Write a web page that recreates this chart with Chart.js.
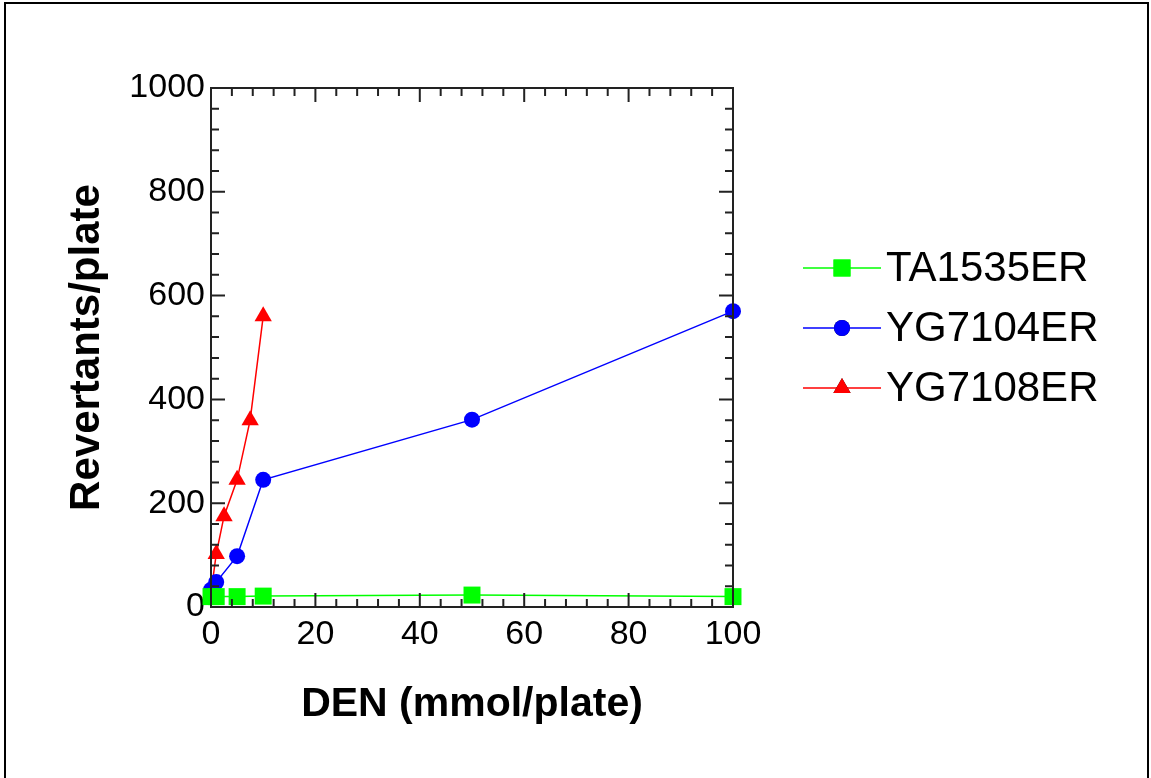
<!DOCTYPE html>
<html>
<head>
<meta charset="utf-8">
<script src="https://cdn.jsdelivr.net/npm/chart.js@4"></script>
<style>
  html, body { margin: 0; padding: 0; background: #fff; }
  #wrap { position: relative; width: 1151px; height: 778px; }
</style>
</head>
<body>
<div id="wrap"><canvas id="chart"></canvas></div>
<script>
// data
const seriesNames = ['TA1535ER', 'YG7104ER', 'YG7108ER'];
const taDose = [0, 1, 5, 10, 50, 100];
const taRev = [20, 20, 20, 21, 23, 20];
const yg7104Dose = [0, 1, 5, 10, 50, 100];
const yg7104Rev = [33, 48, 98, 245, 361, 570];
const yg7108Dose = [0, 1, 2.5, 5, 7.5, 10];
const yg7108Rev = [27, 102, 175, 245, 360, 560];

const xTitle = 'DEN (mmol/plate)';
const yTitle = 'Revertants/plate';

const FONT = "Arial, 'Liberation Sans', sans-serif";

function toPoints(xs, ys) {
    return xs.map((x, i) => ({ x: x, y: ys[i] }));
}

// inward ticks on all four sides plus the box
const frameTicks = {
    id: 'frameTicks',
    afterDatasetsDraw(chart) {
        const { ctx, chartArea: a, scales } = chart;
        const xs = scales.x, ys = scales.y;
        ctx.save();
        ctx.strokeStyle = '#222';
        ctx.lineWidth = 2;
        ctx.beginPath();
        for (let v = 0; v <= 100; v += 4) {
            const px = xs.getPixelForValue(v);
            const len = v % 20 === 0 ? 14 : 8;
            ctx.moveTo(px, a.bottom); ctx.lineTo(px, a.bottom - len);
            ctx.moveTo(px, a.top); ctx.lineTo(px, a.top + len);
        }
        for (let v = 0; v <= 1000; v += 40) {
            const py = ys.getPixelForValue(v);
            const len = v % 200 === 0 ? 14 : 8;
            ctx.moveTo(a.left, py); ctx.lineTo(a.left + len, py);
            ctx.moveTo(a.right, py); ctx.lineTo(a.right - len, py);
        }
        ctx.stroke();
        ctx.strokeRect(a.left, a.top, a.right - a.left, a.bottom - a.top);
        ctx.restore();
    }
};

// legend drawn as line + marker + label, on the right
const sideLegend = {
    id: 'sideLegend',
    afterDraw(chart) {
        const ctx = chart.ctx;
        const rows = [268, 328, 388];
        ctx.save();
        chart.data.datasets.forEach((ds, i) => {
            const y = rows[i];
            ctx.strokeStyle = ds.borderColor;
            ctx.lineWidth = ds.borderWidth;
            ctx.beginPath();
            ctx.moveTo(803, y);
            ctx.lineTo(881, y);
            ctx.stroke();
            Chart.helpers.drawPoint(ctx, {
                pointStyle: ds.pointStyle,
                radius: ds.pointRadius,
                borderWidth: 0,
                rotation: 0
            }, 842, y);
            ctx.fillStyle = ds.pointBackgroundColor;
            ctx.fill();
            ctx.fillStyle = '#000';
            ctx.font = '42px ' + FONT;
            ctx.textBaseline = 'middle';
            ctx.textAlign = 'left';
            ctx.fillText(ds.label, 886, y + 1);
        });
        // outer frame (top, left, right)
        ctx.strokeStyle = '#000';
        ctx.lineWidth = 2;
        ctx.beginPath();
        ctx.moveTo(5, 778);
        ctx.lineTo(5, 3);
        ctx.lineTo(1148, 3);
        ctx.lineTo(1148, 778);
        ctx.stroke();
        ctx.restore();
    }
};

function makeSet(label, xs, ys, color, style, radius) {
    return {
        label: label,
        data: toPoints(xs, ys),
        borderColor: color,
        backgroundColor: color,
        pointBackgroundColor: color,
        pointBorderWidth: 0,
        borderWidth: 1.5,
        pointStyle: style,
        pointRadius: radius,
        pointHoverRadius: radius,
        showLine: true,
        clip: false
    };
}

const ctx = document.getElementById('chart').getContext('2d');
new Chart(ctx, {
    type: 'scatter',
    data: {
        datasets: [
            makeSet(seriesNames[0], taDose, taRev, '#00ff00', 'rect', 12),
            makeSet(seriesNames[1], yg7104Dose, yg7104Rev, '#0000ff', 'circle', 8),
            makeSet(seriesNames[2], yg7108Dose, yg7108Rev, '#ff0000', 'triangle', 10)
        ]
    },
    options: {
        responsive: true,
        maintainAspectRatio: false,
        animation: false,
        layout: { padding: { left: 0, top: 88, right: 418, bottom: 0 } },
        plugins: {
            legend: { display: false },
            tooltip: { enabled: false }
        },
        scales: {
            x: {
                type: 'linear',
                min: 0,
                max: 100,
                afterFit: s => { s.height = 171; },
                grid: { display: false, drawTicks: false },
                border: { display: false },
                ticks: {
                    stepSize: 20,
                    padding: 7,
                    color: '#000',
                    maxRotation: 0,
                    font: { family: FONT, size: 34 },
                    callback: v => String(v)
                },
                title: {
                    display: true,
                    text: xTitle,
                    color: '#000',
                    padding: { top: 0, bottom: 49 },
                    font: { family: FONT, size: 41, weight: 'bold' }
                }
            },
            y: {
                type: 'linear',
                min: 0,
                max: 1000,
                afterFit: s => { s.width = 211; },
                grid: { display: false, drawTicks: false },
                border: { display: false },
                ticks: {
                    stepSize: 200,
                    padding: 6,
                    color: '#000',
                    font: { family: FONT, size: 34 },
                    callback: v => String(v)
                },
                title: {
                    display: true,
                    text: yTitle,
                    color: '#000',
                    padding: { top: 62, bottom: 0 },
                    font: { family: FONT, size: 42, weight: 'bold' }
                }
            }
        }
    },
    plugins: [frameTicks, sideLegend]
});
</script>
</body>
</html>
